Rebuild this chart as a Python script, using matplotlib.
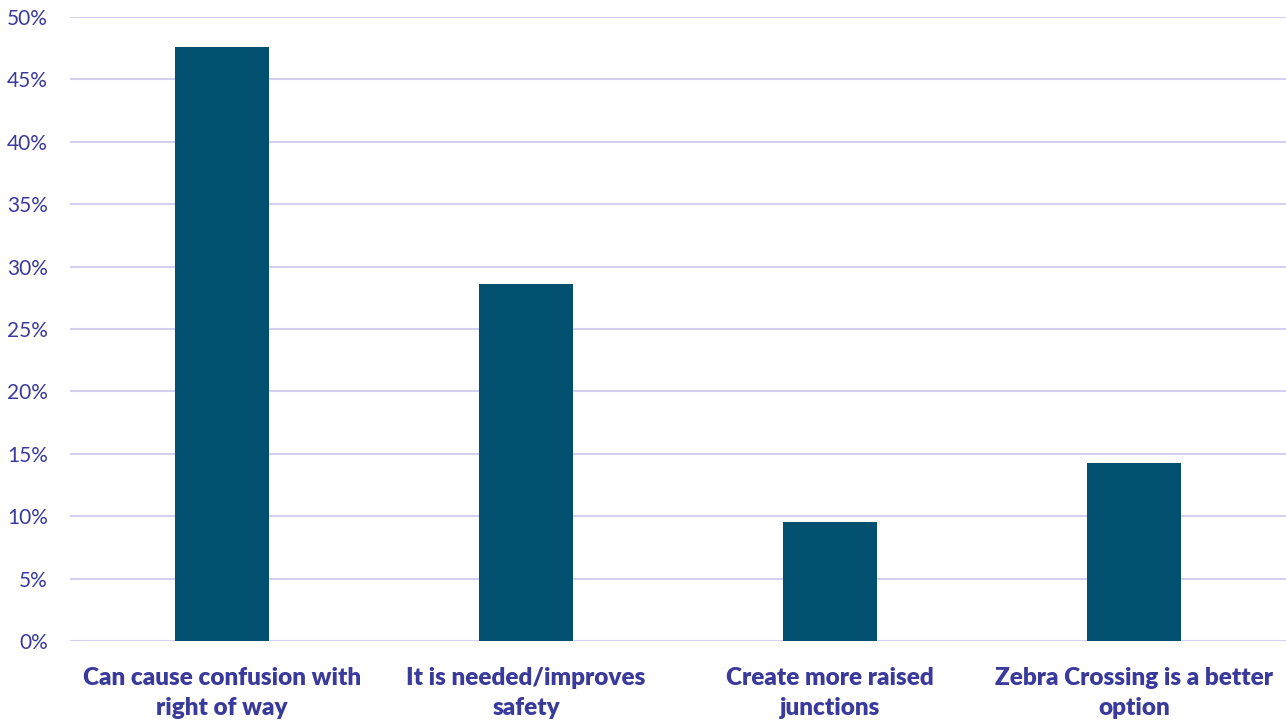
import matplotlib.pyplot as plt
from matplotlib.ticker import PercentFormatter

# Survey responses (share of respondents)
categories = [
    "Can cause confusion with\nright of way",
    "It is needed/improves\nsafety",
    "Create more raised\njunctions",
    "Zebra Crossing is a better\noption",
]
shares = [47.6, 28.6, 9.5, 14.3]

bar_color = "#02506F"
text_color = "#3A3A9C"
grid_color = "#D3CFEE"

plt.rcParams["font.family"] = ["Lato", "DejaVu Sans"]

fig = plt.figure(figsize=(12.86, 7.21), dpi=100)
ax = fig.add_axes([70 / 1286, 1 - 641 / 721, 1 - 70 / 1286, (641 - 17) / 721])

x = range(len(categories))
ax.bar(x, shares, width=0.31, color=bar_color, zorder=3)

ax.set_ylim(0, 50)
ax.set_xlim(-0.5, len(categories) - 0.5)
ax.set_yticks(range(0, 51, 5))
ax.yaxis.set_major_formatter(PercentFormatter(decimals=0))
ax.grid(axis="y", color=grid_color, linewidth=1.5, zorder=0)

ax.set_xticks(list(x))
ax.set_xticklabels(categories, fontsize=17.5, fontweight="heavy", color=text_color,
                   linespacing=1.45)
ax.tick_params(axis="x", length=0, pad=19)
ax.tick_params(axis="y", length=0, labelsize=15, labelcolor=text_color, pad=16)

for s in ax.spines.values():
    s.set_visible(False)

fig.savefig("out.png", dpi=100)
